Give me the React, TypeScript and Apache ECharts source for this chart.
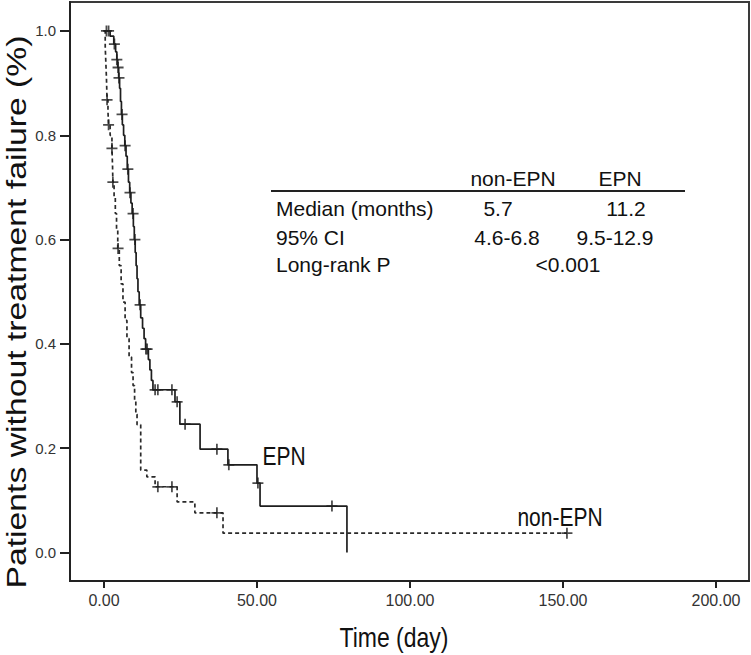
import React, { useEffect, useRef } from "react";
import * as echarts from "echarts";

// ---- data ----
const xTicks = [0, 50, 100, 150, 200];
const yTicks = [0, 0.2, 0.4, 0.6, 0.8, 1.0];

// EPN (solid) Kaplan-Meier steps: [time, survival]
const epnSteps: [number, number][] = [
  [0, 1], [2.0, 0.99], [3.2, 0.975], [3.8, 0.96], [4.2, 0.945], [4.5, 0.93], [4.8, 0.91],
  [5.1, 0.89], [5.4, 0.865], [5.7, 0.84], [6.0, 0.82], [6.4, 0.8], [6.8, 0.78], [7.2, 0.76],
  [7.6, 0.735], [8.0, 0.71], [8.4, 0.69], [8.8, 0.67], [9.2, 0.65], [9.6, 0.625], [9.9, 0.6],
  [10.2, 0.575], [10.5, 0.55], [10.8, 0.525], [11.1, 0.5], [11.5, 0.475], [12.0, 0.45],
  [12.6, 0.43], [13.1, 0.41], [13.6, 0.39], [14.5, 0.37], [15.0, 0.35], [15.5, 0.33],
  [16.0, 0.312], [23.2, 0.289], [24.8, 0.246], [31.4, 0.198], [40.5, 0.168], [50.0, 0.133],
  [51.0, 0.089], [79.4, 0]
];
const epnCensor: [number, number][] = [
  [1.5, 1.0], [3.4, 0.975], [4.2, 0.945], [4.6, 0.93], [4.9, 0.91], [5.9, 0.84], [6.9, 0.78],
  [7.8, 0.735], [8.5, 0.69], [9.5, 0.65], [10.1, 0.6], [11.8, 0.475], [13.7, 0.39], [14.1, 0.39],
  [16.7, 0.312], [17.6, 0.312], [22.2, 0.312], [23.9, 0.289], [26.5, 0.246], [36.9, 0.198],
  [40.8, 0.168], [50.3, 0.133], [74.5, 0.089]
];

// non-EPN (dashed)
const nonEpnSteps: [number, number][] = [
  [0, 1], [0.4, 0.97], [0.6, 0.94], [0.8, 0.91], [1.0, 0.868], [1.3, 0.845], [1.5, 0.82],
  [2.0, 0.8], [2.6, 0.775], [2.8, 0.74], [2.9, 0.71], [3.3, 0.68], [3.7, 0.65], [4.1, 0.62],
  [4.5, 0.583], [5.0, 0.55], [5.6, 0.515], [6.2, 0.48], [6.9, 0.445], [7.5, 0.41], [8.2, 0.375],
  [9.0, 0.345], [9.5, 0.32], [10.0, 0.29], [10.4, 0.265], [10.8, 0.245], [12.0, 0.158],
  [14.0, 0.145], [16.7, 0.126], [23.9, 0.097], [29.7, 0.076], [38.9, 0.037], [151.3, 0.037]
];
const nonEpnCensor: [number, number][] = [
  [0.8, 1.0], [1.0, 0.868], [1.5, 0.82], [2.6, 0.775], [2.9, 0.71], [4.6, 0.583],
  [17.6, 0.126], [22.2, 0.126], [36.9, 0.076], [151.3, 0.037]
];

const groupNames = ["non-EPN", "EPN"];
const statLabels = ["Median (months)", "95% CI", "Long-rank P"];
const nonEpnStats = ["5.7", "4.6-6.8"];
const epnStats = ["11.2", "9.5-12.9"];
const pValue = "<0.001";

const xTitle = "Time (day)";
const yTitle = "Patients without treatment failure (%)";

// ---- layout ----
const W = 751;
const H = 655;
const GRID = { left: 70, top: 2, right: 2, bottom: 74 };
const X_MIN = -11.11;
const X_MAX = 210.8;
const Y_MIN = -0.0547;
const Y_MAX = 1.0556;

const PLUS = "path://M0,4.2H10V5.8H0Z M4.2,0H5.8V10H4.2Z";
const INK = "#1e1e1e";
const FONT = "Liberation Sans, Arial, sans-serif";

export default function App() {
  const ref = useRef<HTMLDivElement>(null);
  useEffect(() => {
    if (!ref.current) return;
    const chart = echarts.init(ref.current, null, { renderer: "svg" });

    const tText = (text: string, x: number, y: number, align: string, size = 21) => ({
      type: "text",
      x,
      y,
      silent: true,
      style: { text, font: `${size}px ${FONT}`, fill: "#111", align, verticalAlign: "middle" }
    });

    const colL = 276, colA = 510, colB = 622;
    const rowY = [208, 237, 264];
    const graphics: any[] = [
      tText(groupNames[0], 513, 178, "center"),
      tText(groupNames[1], 620, 178, "center"),
      { type: "line", silent: true, shape: { x1: 271, y1: 191, x2: 685, y2: 191 }, style: { stroke: "#222", lineWidth: 2 } },
      tText(statLabels[0], colL, rowY[0], "left"),
      tText(nonEpnStats[0], 498, rowY[0], "center"),
      tText(epnStats[0], 626, rowY[0], "center"),
      tText(statLabels[1], colL, rowY[1], "left"),
      tText(nonEpnStats[1], 507, rowY[1], "center"),
      tText(epnStats[1], 615, rowY[1], "center"),
      tText(statLabels[2], colL, rowY[2], "left"),
      tText(pValue, 568, rowY[2], "center"),
      {
        type: "text", x: 284, y: 456, scaleY: 1.2, silent: true,
        style: { text: groupNames[1], font: `21px ${FONT}`, fill: "#111", align: "center", verticalAlign: "middle" }
      },
      {
        type: "text", x: 560, y: 517, scaleY: 1.2, silent: true,
        style: { text: groupNames[0], font: `21px ${FONT}`, fill: "#111", align: "center", verticalAlign: "middle" }
      },
      {
        type: "text", x: 394, y: 637, scaleY: 1.2, silent: true,
        style: { text: xTitle, font: `23px ${FONT}`, fill: "#111", align: "center", verticalAlign: "middle" }
      },
      {
        type: "text", x: 16, y: 312, rotation: Math.PI / 2, scaleX: 1.25, silent: true,
        style: { text: yTitle, font: `27px ${FONT}`, fill: "#111", align: "center", verticalAlign: "middle" }
      }
    ];

    chart.setOption({
      animation: false,
      grid: { ...GRID, show: true, borderColor: "#3a3a3a", borderWidth: 2, containLabel: false },
      xAxis: {
        type: "value",
        min: X_MIN,
        max: X_MAX,
        splitLine: { show: false },
        axisLine: { show: true, onZero: false, lineStyle: { color: "#222", width: 2 } },
        axisTick: { show: true, customValues: xTicks, length: 7, lineStyle: { color: "#222", width: 2 } },
        axisLabel: {
          customValues: xTicks,
          formatter: (v: number) => v.toFixed(2),
          margin: 11,
          fontSize: 16,
          fontFamily: FONT,
          color: "#333"
        }
      },
      yAxis: {
        type: "value",
        min: Y_MIN,
        max: Y_MAX,
        splitLine: { show: false },
        axisLine: { show: true, onZero: false, lineStyle: { color: "#222", width: 2 } },
        axisTick: { show: true, customValues: yTicks, length: 10, lineStyle: { color: "#222", width: 2 } },
        axisLabel: {
          customValues: yTicks,
          formatter: (v: number) => v.toFixed(1),
          margin: 14,
          fontSize: 15,
          fontFamily: FONT,
          color: "#333"
        }
      },
      series: [
        {
          name: "EPN",
          type: "line",
          step: "end",
          data: epnSteps,
          symbol: "none",
          lineStyle: { color: INK, width: 1.7 },
          silent: true,
          z: 3
        },
        {
          name: "non-EPN",
          type: "line",
          step: "end",
          data: nonEpnSteps,
          symbol: "none",
          lineStyle: { color: "#2a2a2a", width: 1.7, type: [4, 3] },
          silent: true,
          z: 3
        },
        {
          name: "EPN censored",
          type: "scatter",
          data: epnCensor,
          symbol: PLUS,
          symbolSize: 11,
          itemStyle: { color: INK },
          silent: true,
          z: 4
        },
        {
          name: "non-EPN censored",
          type: "scatter",
          data: nonEpnCensor,
          symbol: PLUS,
          symbolSize: 11,
          itemStyle: { color: INK },
          silent: true,
          z: 4
        }
      ],
      graphic: graphics
    });

    return () => chart.dispose();
  }, []);

  return (
    <div
      ref={ref}
      style={{ position: "absolute", left: 0, top: 0, width: W, height: H, background: "#fff" }}
    />
  );
}
